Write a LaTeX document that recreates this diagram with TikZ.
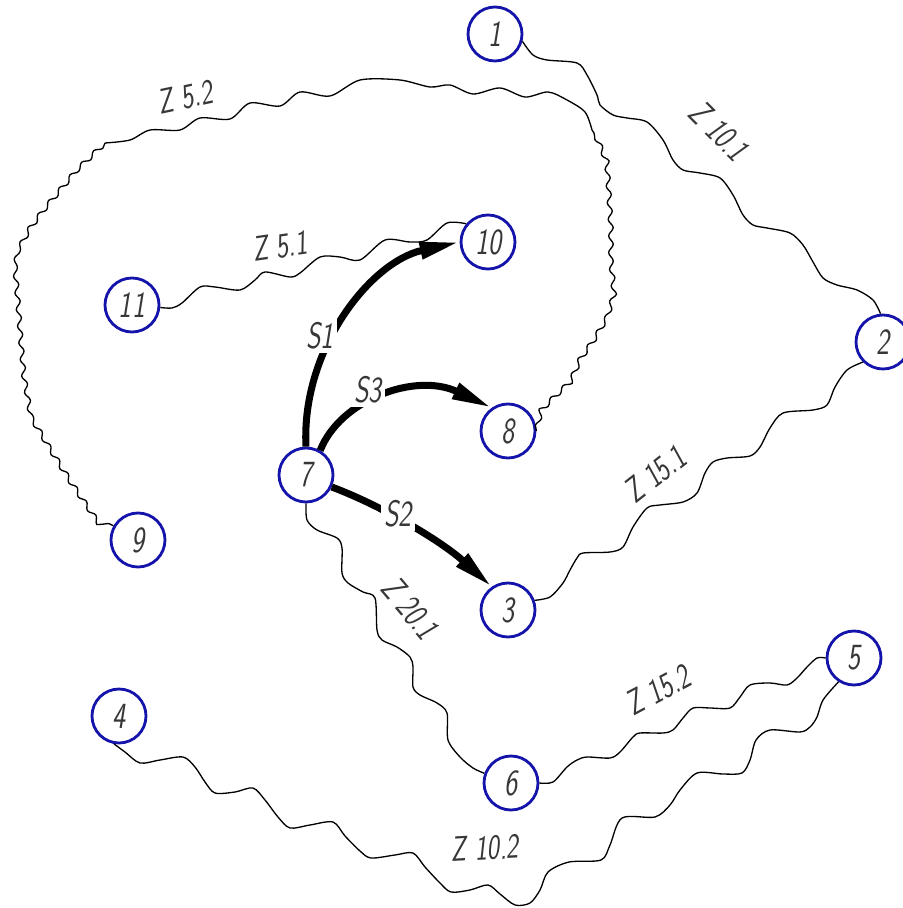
\documentclass[tikz,border=0pt]{standalone}
\usetikzlibrary{arrows.meta,decorations.pathmorphing}
\definecolor{nodeblue}{RGB}{20,20,170}
\definecolor{txtgray}{RGB}{55,55,55}
\newcommand\gost[1]{\scalebox{0.75}[1]{\sffamily\itshape #1}}
\begin{document}
\begin{tikzpicture}[x=0.02cm,y=-0.02cm,
  vert/.style={circle,draw=nodeblue,line width=1.6pt,fill=white,minimum size=1.08cm,inner sep=0pt,text=txtgray,font=\fontsize{21}{23}\selectfont},
  wire/.style={line width=0.75pt,black},
  wavy/.style={decorate,decoration={snake,amplitude=1.3pt,segment length=9.5pt}},
  flow/.style={line width=4pt,-{Triangle[length=0.8cm,width=0.32cm]}},
  zlab/.style={text=txtgray,font=\fontsize{20}{22}\selectfont,inner sep=1pt},
  slab/.style={fill=white,text=txtgray,font=\fontsize{21}{23}\selectfont,inner sep=2pt}]
\useasboundingbox (0,0) rectangle (902,908);

% nodes
\node[vert] (n1)  at (495,34)  {\gost{1}};
\node[vert] (n2)  at (883,342) {\gost{2}};
\node[vert] (n3)  at (508,610) {\gost{3}};
\node[vert] (n4)  at (119,716) {\gost{4}};
\node[vert] (n5)  at (854,658) {\gost{5}};
\node[vert] (n6)  at (511,783) {\gost{6}};
\node[vert] (n7)  at (306,475) {\gost{7}};
\node[vert] (n8)  at (508,431) {\gost{8}};
\node[vert] (n9)  at (138,540) {\gost{9}};
\node[vert] (n10) at (488,242) {\gost{10}};
\node[vert] (n11) at (132,305) {\gost{11}};

% Z 10.1 : 1 -> 2
\draw[wire] plot[smooth,tension=.5] coordinates {(n1.-15) (533,55) (547,60) (577,63) (587,75) (597,95) (600,105) (613,115) (627,118) (647,122) (663,140) (673,160) (683,170) (700,173) (720,178) (733,195) (743,215) (753,225) (767,228) (790,233) (803,245) (813,262) (823,278) (837,285) (857,290) (873,300) (n2.95)};

% Z 15.1 : 3 -> 2
\draw[wire] plot[smooth,tension=.5] coordinates {(n3.20) (550,597) (563,583) (570,570) (577,558) (583,553) (610,552) (623,547) (633,527) (647,508) (660,505) (683,502) (697,493) (705,473) (713,462) (727,458) (750,456) (760,447) (770,428) (783,413) (813,410) (827,405) (835,387) (847,370) (n2.225)};

% Z 20.1 : 7 -> 6
\draw[wire] plot[smooth,tension=.5] coordinates {(n7.south) (307,520) (317,530) (337,538) (342,548) (342,573) (348,583) (363,592) (375,598) (377,630) (382,640) (397,647) (410,657) (413,667) (413,687) (420,695) (437,703) (447,713) (448,740) (460,757) (473,768) (n6.160)};

% Z 15.2 : 6 -> 5
\draw[wire] plot[smooth,tension=.5] coordinates {(n6.east) (553,782) (567,767) (577,760) (587,757) (610,758) (620,752) (633,737) (640,733) (663,733) (673,730) (683,718) (693,708) (710,708) (730,708) (740,697) (750,685) (770,683) (787,685) (797,678) (807,667) (817,658) (n5.west)};

% Z 10.2 : 4 -> 5
\draw[wire] plot[smooth,tension=.5] coordinates {(n4.-100) (125,752) (140,763) (160,760) (183,757) (195,767) (205,782) (215,793) (235,792) (253,788) (265,800) (278,817) (290,828) (310,825) (333,822) (345,836) (360,851) (371,858) (395,855) (413,853) (425,867) (440,883) (451,892) (470,890) (488,885) (500,894) (515,905) (530,903) (540,890) (548,872) (569,862) (601,860) (610,845) (622,818) (655,817) (670,805) (680,790) (697,773) (723,774) (742,773) (750,760) (756,740) (770,730) (800,732) (810,727) (817,717) (823,700) (n5.237)};

% Z 5.1 : 11 -> 10
\draw[wire] plot[smooth,tension=.5] coordinates {(n11.-5) (172,308) (182,303) (200,287) (215,287) (240,290) (255,280) (265,272) (290,277) (300,273) (320,257) (340,257) (360,260) (385,240) (410,242) (427,240) (447,223) (n10.140)};

% Z 5.2 : 8 -> 9
\coordinate (c52a) at (592,130);
\coordinate (c52b) at (105,143);
\draw[wire,wavy] (n8.east) -- (540,415) -- (560,395) -- (573,383) -- (583,360) -- (597,340) -- (610,318) -- (617,295) -- (614,265) -- (614,230) -- (612,195) -- (610,165) -- (600,142) -- (c52a);
\draw[wire] plot[smooth,tension=.5] coordinates {(c52a) (585,112) (567,100) (548,92) (525,97) (500,88) (473,94) (450,85) (430,87) (400,80) (360,80) (330,96) (300,92) (280,106) (250,103) (230,119) (200,118) (180,130) (150,130) (130,140) (c52b)};
\draw[wire,wavy] (c52b) -- (80,167) -- (50,203) -- (35,223) -- (22,247) -- (19,265) -- (22,300) -- (25,340) -- (28,375) -- (35,415) -- (50,440) -- (75,480) -- (102,520) -- (n9.150);

% S arrows
\draw[flow] (n7.north) .. controls (301,350) and (370,262) .. (n10.west);
\draw[flow] (n7.60) .. controls (340,400) and (415,372) .. (n8.125);
\draw[flow] (n7.-25) .. controls (380,505) and (440,540) .. (n3.125);

% labels
\node[slab] (s1) at (320,336) {\gost{S1}};
\node[slab] (s3) at (368,390) {\gost{S3}};
\node[slab] (s2) at (398,514) {\gost{S2}};

\node[zlab,rotate=12]  (z52)  at (185,97)  {\gost{Z 5.2}};
\node[zlab,rotate=8]   (z51)  at (280,246) {\gost{Z 5.1}};
\node[zlab,rotate=-45] (z101) at (719,131) {\gost{Z 10.1}};
\node[zlab,rotate=38]  (z151) at (655,474) {\gost{Z 15.1}};
\node[zlab,rotate=-50] (z201) at (410,608) {\gost{Z 20.1}};
\node[zlab,rotate=28]  (z152) at (658,690) {\gost{Z 15.2}};
\node[zlab,rotate=3]   (z102) at (485,848) {\gost{Z 10.2}};
\end{tikzpicture}
\end{document}
